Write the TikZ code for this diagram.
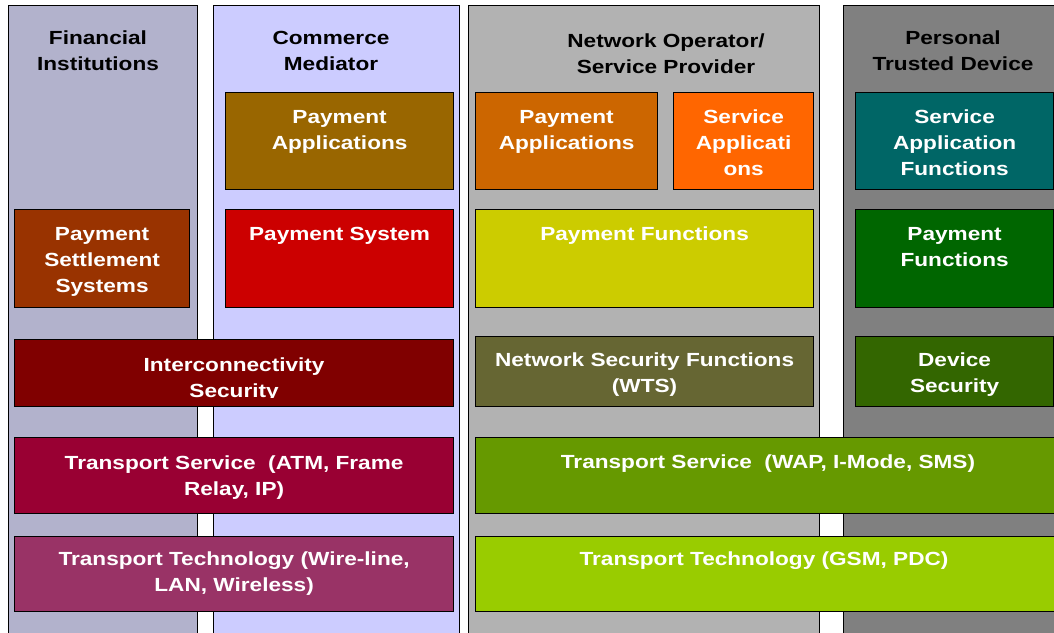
\documentclass[tikz,border=0pt]{standalone}
\usepackage{fontspec}
\setmainfont{Liberation Sans}[FakeStretch=1.19]

% column and block colours
\definecolor{finCol}{HTML}{B2B2CC}
\definecolor{comCol}{HTML}{CCCCFF}
\definecolor{netCol}{HTML}{B2B2B2}
\definecolor{ptdCol}{HTML}{808080}
\definecolor{payAppBrown}{HTML}{996600}
\definecolor{payAppOrange}{HTML}{CC6600}
\definecolor{srvAppOrange}{HTML}{FF6600}
\definecolor{srvFuncTeal}{HTML}{006666}
\definecolor{settleBrown}{HTML}{993300}
\definecolor{paySysRed}{HTML}{CC0000}
\definecolor{payFuncYellow}{HTML}{CCCC00}
\definecolor{payFuncGreen}{HTML}{006600}
\definecolor{interMaroon}{HTML}{800000}
\definecolor{netSecOlive}{HTML}{666633}
\definecolor{devSecGreen}{HTML}{336600}
\definecolor{tsWine}{HTML}{990033}
\definecolor{tsGreen}{HTML}{669900}
\definecolor{ttPlum}{HTML}{993366}
\definecolor{ttLime}{HTML}{99CC00}

\begin{document}
\begin{tikzpicture}[x=1pt, y=-1pt,
    column/.style={draw, line width=1.2pt, anchor=north west, inner sep=0pt, minimum height=660pt},
    block/.style={draw, line width=1.2pt, anchor=north west, inner sep=0pt},
    blocktext/.style={anchor=north, inner sep=0pt, align=center, text=white,
        font=\bfseries\fontsize{19}{26}\selectfont},
    headtext/.style={blocktext, text=black}]

    % Page frame
    \clip (0,0) rectangle (1054,632);
    \fill[white] (0,0) rectangle (1054,632);

    % Draw columns
    \node[column, fill=finCol, minimum width=189pt] (fin) at (8,5) {};
    \node[column, fill=comCol, minimum width=246pt] (com) at (213,5) {};
    \node[column, fill=netCol, minimum width=351pt] (net) at (468,5) {};
    \node[column, fill=ptdCol, minimum width=240pt] (ptd) at (843,5) {};

    % Column titles
    \node[headtext] (finTitle) at (98,31) {Financial\\Institutions};
    \node[headtext] (comTitle) at (331,31) {Commerce\\Mediator};
    \node[headtext] (netTitle) at (666,34) {Network Operator/\\Service Provider};
    \node[headtext] (ptdTitle) at (953,31) {Personal\\Trusted Device};

    % Application row
    \node[block, fill=payAppBrown, minimum width=228pt, minimum height=97pt] (comApp) at (225,92) {};
    \node[block, fill=payAppOrange, minimum width=182pt, minimum height=97pt] (netApp) at (475,92) {};
    \node[block, fill=srvAppOrange, minimum width=140pt, minimum height=97pt] (netSrv) at (673,92) {};
    \node[block, fill=srvFuncTeal, minimum width=198pt, minimum height=97pt] (ptdSrv) at (855,92) {};
    \node[blocktext] (comAppText) at ([yshift=-18pt]comApp.north) {Payment\\Applications};
    \node[blocktext] (netAppText) at ([yshift=-18pt]netApp.north) {Payment\\Applications};
    \node[blocktext] (netSrvText) at ([yshift=-18pt]netSrv.north) {Service\\Applicati\\ons};
    \node[blocktext] (ptdSrvText) at ([yshift=-18pt]ptdSrv.north) {Service\\Application\\Functions};

    % Payment row
    \node[block, fill=settleBrown, minimum width=175pt, minimum height=98pt] (finSettle) at (14,209) {};
    \node[block, fill=paySysRed, minimum width=228pt, minimum height=98pt] (comSys) at (225,209) {};
    \node[block, fill=payFuncYellow, minimum width=338pt, minimum height=98pt] (netPay) at (475,209) {};
    \node[block, fill=payFuncGreen, minimum width=198pt, minimum height=98pt] (ptdPay) at (855,209) {};
    \node[blocktext] (finSettleText) at ([yshift=-18.5pt]finSettle.north) {Payment\\Settlement\\Systems};
    \node[blocktext] (comSysText) at ([yshift=-18pt]comSys.north) {Payment System};
    \node[blocktext] (netPayText) at ([yshift=-18pt]netPay.north) {Payment Functions};
    \node[blocktext] (ptdPayText) at ([yshift=-18pt]ptdPay.north) {Payment\\Functions};

    % Security row
    \node[block, fill=interMaroon, minimum width=439pt, minimum height=67pt] (inter) at (14,339) {};
    \node[block, fill=netSecOlive, minimum width=338pt, minimum height=70pt] (netSec) at (475,336) {};
    \node[block, fill=devSecGreen, minimum width=198pt, minimum height=70pt] (devSec) at (855,336) {};
    \begin{scope}
        \clip (14,339) rectangle (453,397);
        \node[blocktext] (interText) at ([yshift=-18.5pt]inter.north) {Interconnectivity\\Security};
    \end{scope}
    \node[blocktext] (netSecText) at ([yshift=-16.5pt]netSec.north) {Network Security Functions\\(WTS)};
    \node[blocktext] (devSecText) at ([yshift=-16.5pt]devSec.north) {Device\\Security};

    % Transport service row
    \node[block, fill=tsWine, minimum width=439pt, minimum height=76pt] (finTs) at (14,437) {};
    \node[block, fill=tsGreen, minimum width=600pt, minimum height=76pt] (netTs) at (475,437) {};
    \node[blocktext] (finTsText) at ([yshift=-19pt]finTs.north) {Transport Service~~(ATM, Frame\\Relay, IP)};
    \node[blocktext] (netTsText) at ([xshift=4pt, yshift=-18pt]netTs.north -| 764,0) {Transport Service~~(WAP, I-Mode, SMS)};

    % Transport technology row
    \node[block, fill=ttPlum, minimum width=439pt, minimum height=75pt] (finTt) at (14,536) {};
    \node[block, fill=ttLime, minimum width=600pt, minimum height=75pt] (netTt) at (475,536) {};
    \node[blocktext] (finTtText) at ([yshift=-16pt]finTt.north) {Transport Technology (Wire-line,\\LAN, Wireless)};
    \node[blocktext] (netTtText) at ([yshift=-16pt]netTt.north -| 764,0) {Transport Technology (GSM, PDC)};
\end{tikzpicture}
\end{document}
